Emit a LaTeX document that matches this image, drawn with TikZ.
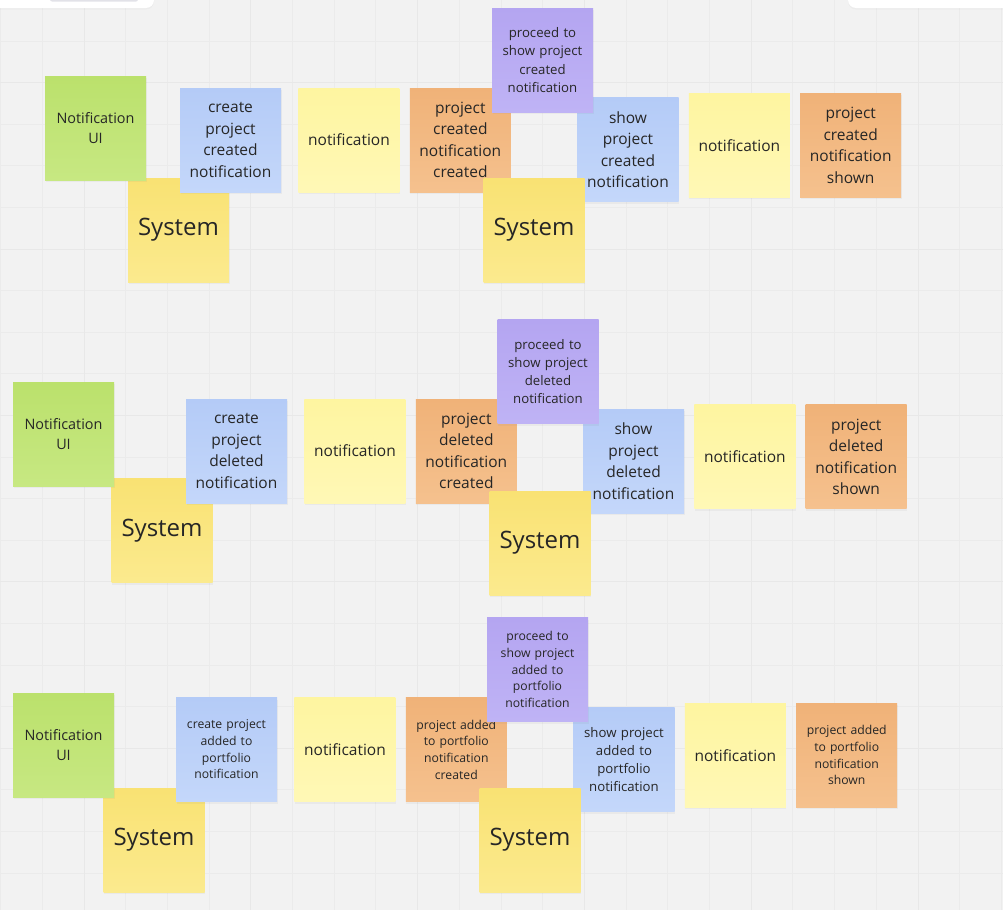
\documentclass[tikz,border=0pt]{standalone}
\usepackage{fontspec}
\setmainfont{Open Sans}
\usepackage{tikz}
\usetikzlibrary{positioning}
\usetikzlibrary{shadows}

\definecolor{boardBg}{RGB}{242,242,242}
\definecolor{gridMinorCol}{RGB}{235,235,235}
\definecolor{gridMajorCol}{RGB}{232,232,232}
\definecolor{barInner}{RGB}{226,226,232}
\definecolor{uiTop}{RGB}{187,225,108}
\definecolor{uiBot}{RGB}{199,232,130}
\definecolor{sysTop}{RGB}{249,226,115}
\definecolor{sysBot}{RGB}{251,234,142}
\definecolor{msgTop}{RGB}{254,245,160}
\definecolor{msgBot}{RGB}{255,248,182}
\definecolor{cmdTop}{RGB}{180,203,247}
\definecolor{cmdBot}{RGB}{196,215,250}
\definecolor{evtTop}{RGB}{240,178,120}
\definecolor{evtBot}{RGB}{245,193,142}
\definecolor{polTop}{RGB}{180,165,241}
\definecolor{polBot}{RGB}{191,179,245}

\tikzset{
  sticky/.style={rectangle, minimum width=101pt, minimum height=104pt, inner sep=0pt,
    text width=95pt, align=center, text=black!85,
    drop shadow={shadow xshift=0.5pt, shadow yshift=-2pt, opacity=0.08}},
  txtL/.style={font=\fontsize{24}{30}\selectfont},
  txtM/.style={font=\fontsize{15.5}{21.5}\selectfont},
  txtUI/.style={font=\fontsize{14.4}{20}\selectfont},
  txtS/.style={font=\fontsize{13.2}{18.3}\selectfont},
  txtXS/.style={font=\fontsize{12.2}{16.7}\selectfont},
  uiNote/.style={sticky, top color=uiTop, bottom color=uiBot, txtUI},
  sysNote/.style={sticky, top color=sysTop, bottom color=sysBot, txtL},
  msgNote/.style={sticky, top color=msgTop, bottom color=msgBot, txtM},
  cmdNote/.style={sticky, top color=cmdTop, bottom color=cmdBot},
  evtNote/.style={sticky, top color=evtTop, bottom color=evtBot},
  polNote/.style={sticky, top color=polTop, bottom color=polBot},
  gridMinor/.style={draw=gridMinorCol, line width=1pt},
  gridMajor/.style={draw=gridMajorCol, line width=1pt}
}

\begin{document}
\begin{tikzpicture}[x=1pt,y=-1pt]
        \useasboundingbox (0,0) rectangle (1003,910);
        \fill[boardBg] (0,0) rectangle (1003,910);
        \begin{scope}
        \clip (0,0) rectangle (1003,910);
        % board grid
        \foreach \i in {0,...,24} \draw[gridMinor] ({0.6+41.7*\i},0) -- ({0.6+41.7*\i},910);
        \foreach \j in {1,...,22} \draw[gridMinor] (0,{-0.6+41.6*\j}) -- (1003,{-0.6+41.6*\j});
        \foreach \i in {2,6,...,22} \draw[gridMajor] ({0.6+41.7*\i},0) -- ({0.6+41.7*\i},910);
        \foreach \j in {2,6,...,22} \draw[gridMajor] (0,{-0.6+41.6*\j}) -- (1003,{-0.6+41.6*\j});
        % toolbars
        \fill[white, drop shadow={shadow xshift=0pt, shadow yshift=-1.5pt, opacity=0.05}, rounded corners=8pt] (-12,-12) rectangle (154,8);
        \fill[barInner, rounded corners=2pt] (50,-6) rectangle (138,1.5);
        \fill[white, drop shadow={shadow xshift=0pt, shadow yshift=-1.5pt, opacity=0.05}, rounded corners=8pt] (848,-12) rectangle (1015,8);
        \end{scope}

        % created
        \node (sysCreatedA) at (178.5,230) [sysNote] {System};
        \node (uiCreated) at (95.5,128) [uiNote] {Notification\\UI};
        \node (cmdCreate) at (230.5,140) [cmdNote,txtM] {create\\project\\created\\notification};
        \node[right=of cmdCreate,xshift=-4mm] (msgCreatedA) [msgNote] {notification};
        \node[right=of msgCreatedA,xshift=-6.5mm] (evtCreated) [evtNote,txtM] {project\\created\\notification\\created};
        \node (cmdShowCreated) at (628,149.5) [cmdNote,txtM] {show\\project\\created\\notification};
        \node (polCreated) at (542.5,60) [polNote,txtS] {proceed to\\show project\\created\\notification};
        \node (sysCreatedB) at (534,230) [sysNote] {System};
        \node[right=of cmdShowCreated,xshift=-6.5mm,yshift=1.5mm] (msgCreatedB) [msgNote] {notification};
        \node[right=of msgCreatedB,xshift=-6.5mm] (evtShownCreated) [evtNote,txtM] {project\\created\\notification\\shown};

        % deleted
        \node (sysDeletedA) at (162,530.5) [sysNote] {System};
        \node (uiDeleted) at (63.5,434) [uiNote] {Notification\\UI};
        \node (cmdDelete) at (236.5,451) [cmdNote,txtM] {create\\project\\deleted\\notification};
        \node[right=of cmdDelete,xshift=-4mm] (msgDeletedA) [msgNote] {notification};
        \node[right=of msgDeletedA,xshift=-6.5mm] (evtDeleted) [evtNote,txtM] {project\\deleted\\notification\\created};
        \node (cmdShowDeleted) at (633.5,461) [cmdNote,txtM] {show\\project\\deleted\\notification};
        \node (polDeleted) at (548,371.5) [polNote,txtS] {proceed to\\show project\\deleted\\notification};
        \node (sysDeletedB) at (540,543) [sysNote] {System};
        \node[right=of cmdShowDeleted,xshift=-6.5mm,yshift=1.5mm] (msgDeletedB) [msgNote] {notification};
        \node[right=of msgDeletedB,xshift=-6.5mm] (evtShownDeleted) [evtNote,txtM] {project\\deleted\\notification\\shown};

        % added to portfolio
        \node (sysAddedA) at (154,840) [sysNote] {System};
        \node (uiAdded) at (63.5,745) [uiNote] {Notification\\UI};
        \node (cmdAdd) at (226.5,749.5) [cmdNote,txtXS] {create project\\added to\\portfolio\\notification};
        \node[right=of cmdAdd,xshift=-4mm] (msgAddedA) [msgNote] {notification};
        \node[right=of msgAddedA,xshift=-6.5mm] (evtAdded) [evtNote,txtXS] {project added\\to portfolio\\notification\\created};
        \node (cmdShowAdded) at (624,759.5) [cmdNote,txtS] {show project\\added to\\portfolio\\notification};
        \node (polAdded) at (537.5,669.5) [polNote,txtXS] {proceed to\\show project\\added to\\portfolio\\notification};
        \node (sysAddedB) at (530,840) [sysNote] {System};
        \node[right=of cmdShowAdded,xshift=-6.5mm,yshift=1.5mm] (msgAddedB) [msgNote] {notification};
        \node[right=of msgAddedB,xshift=-6.5mm] (evtShownAdded) [evtNote,txtXS] {project added\\to portfolio\\notification\\shown};

    \end{tikzpicture}
\end{document}
